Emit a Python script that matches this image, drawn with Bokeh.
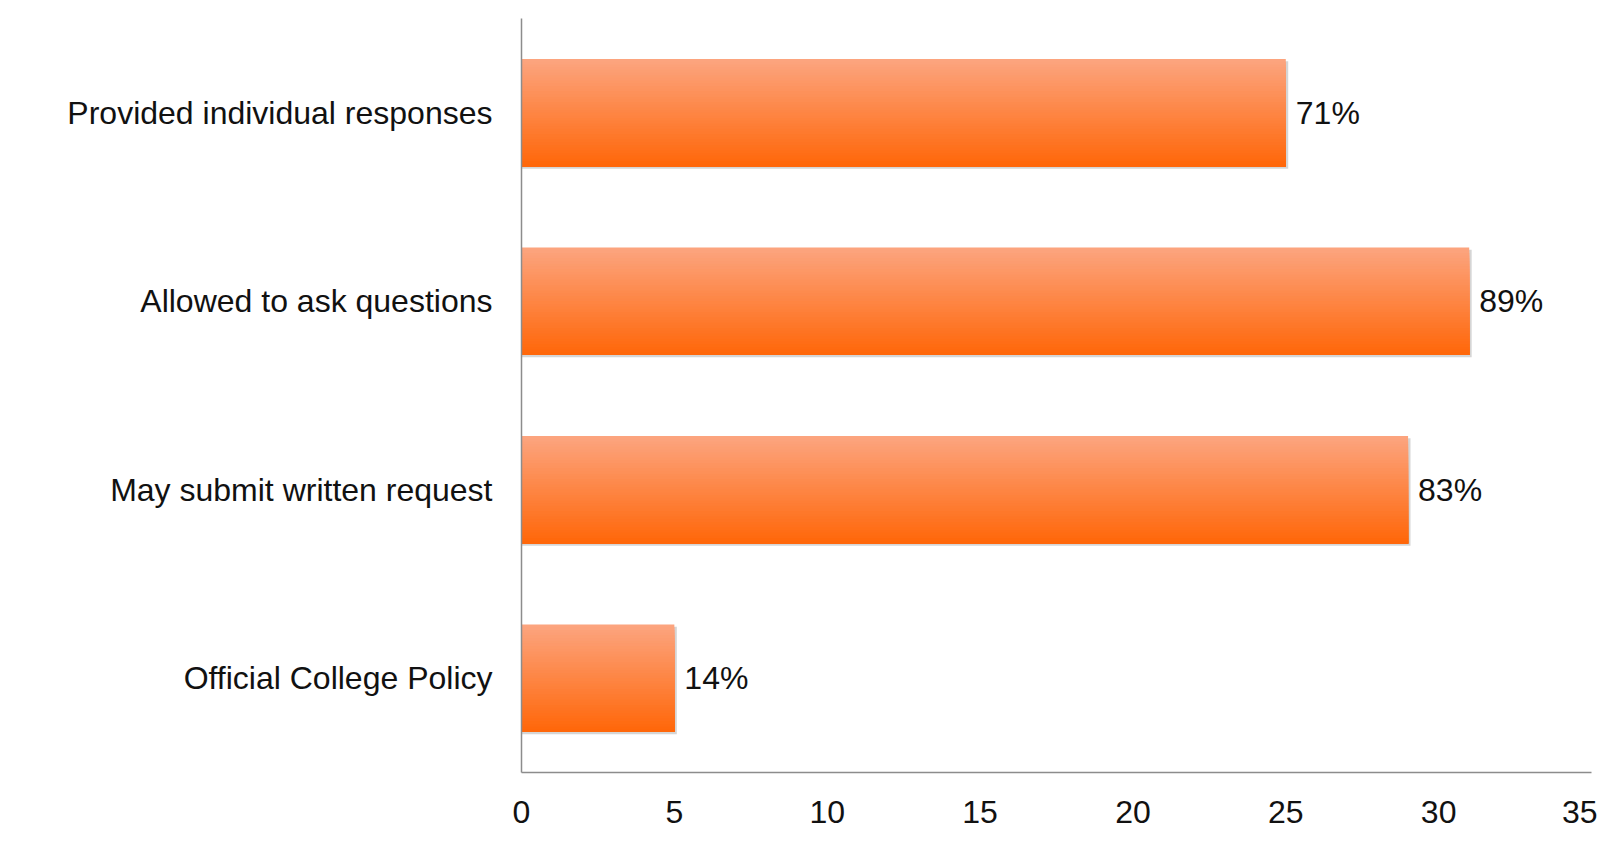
from bokeh.plotting import figure
from bokeh.models import ColumnDataSource, FixedTicker, Range1d
from bokeh.embed import file_html
from bokeh.resources import INLINE
from bokeh.core.properties import value

categories = ["Provided individual responses", "Allowed to ask questions",
              "May submit written request", "Official College Policy"]
counts = [25, 31, 29, 5]
pct_labels = ["71%", "89%", "83%", "14%"]
x_ticks = [0, 5, 10, 15, 20, 25, 30, 35]

FONT = "Liberation Sans"
FS = "32px"
BAR_H = 0.57
N = 40
top_rgb = (252, 165, 128)
bot_rgb = (255, 102, 8)

n = len(categories)
ypos = [n - 1 - i for i in range(n)]

p = figure(width=1597, height=867, output_backend="svg", toolbar_location=None,
           x_range=Range1d(0, 35), y_range=Range1d(-0.5, n - 0.5),
           min_border_left=521, min_border_right=6, min_border_top=18, min_border_bottom=95)
p.outline_line_color = None
p.xgrid.visible = False
p.ygrid.visible = False
p.background_fill_color = "white"
p.border_fill_color = "white"

# shadow
shadow = ColumnDataSource(dict(y=[y - 0.012 for y in ypos], right=[c + 0.08 for c in counts]))
p.hbar(y="y", left=0, right="right", height=BAR_H, source=shadow,
       fill_color="#888888", fill_alpha=0.35, line_color=None)

# gradient bars: each strip spans from its top edge down to the bar bottom
ys, rights, hs, cols = [], [], [], []
for yc, c in zip(ypos, counts):
    bottom = yc - BAR_H / 2
    for k in range(N):
        t = (k + 0.5) / N
        r = round(top_rgb[0] + (bot_rgb[0] - top_rgb[0]) * t)
        g = round(top_rgb[1] + (bot_rgb[1] - top_rgb[1]) * t)
        b = round(top_rgb[2] + (bot_rgb[2] - top_rgb[2]) * t)
        top = yc + BAR_H / 2 - k * BAR_H / N
        ys.append((top + bottom) / 2)
        rights.append(c)
        hs.append(top - bottom)
        cols.append("#%02x%02x%02x" % (r, g, b))
src = ColumnDataSource(dict(y=ys, right=rights, h=hs, color=cols))
p.hbar(y="y", left=0, right="right", height="h", source=src,
       fill_color="color", line_color=None)

# value labels
lab = ColumnDataSource(dict(x=counts, y=ypos, t=pct_labels))
p.text(x="x", y="y", text="t", source=lab, x_offset=10, text_align="left",
       text_baseline="middle", text_font=value(FONT), text_font_size=FS,
       text_color="#111111")

p.xaxis.ticker = FixedTicker(ticks=x_ticks)
p.yaxis.ticker = FixedTicker(ticks=ypos)
p.yaxis.major_label_overrides = {y: c for y, c in zip(ypos, categories)}
for ax in (p.xaxis, p.yaxis):
    ax.axis_line_color = "#8c8c8c"
    ax.axis_line_width = 1.5
    ax.major_tick_line_color = None
    ax.minor_tick_line_color = None
    ax.major_tick_in = 0
    ax.major_tick_out = 0
    ax.major_label_text_font = FONT
    ax.major_label_text_font_size = FS
    ax.major_label_text_color = "#111111"
p.yaxis.major_label_standoff = 29
p.xaxis.major_label_standoff = 28

open("out.html", "w").write(file_html(p, INLINE))
